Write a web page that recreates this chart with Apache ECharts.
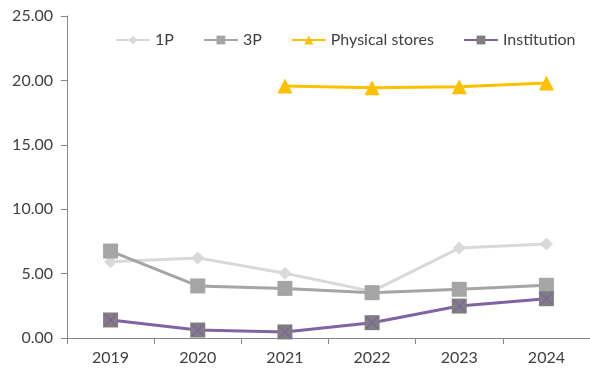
<!DOCTYPE html>
<html><head><meta charset="utf-8">
<script src="https://cdn.jsdelivr.net/npm/echarts@6/dist/echarts.min.js"></script>
<style>html,body{margin:0;padding:0;background:#fff}#c{width:590px;height:374px}</style>
</head><body><div id="c"></div>
<script>
var categories = ['2019','2020','2021','2022','2023','2024'];
var yTicks = [0,5,10,15,20,25];
var s1P = [5.92, 6.22, 5.02, 3.62, 6.98, 7.30];
var s3P = [6.75, 4.04, 3.85, 3.52, 3.78, 4.09];
var sPhysical = [null, null, 19.57, 19.42, 19.50, 19.80];
var sInstitution = [1.40, 0.62, 0.47, 1.19, 2.48, 3.05];

var font = 'Lato, "Open Sans", sans-serif';
var chart = echarts.init(document.getElementById('c'));
var xPath = 'path://M0,0 L10,10 M10,0 L0,10';
chart.setOption({
  animation: false,
  textStyle: {fontFamily: font},
  grid: {left: 67, right: -5, top: 16, bottom: 36},
  legend: {
    top: 27, left: 110, itemGap: 29, itemWidth: 34, itemHeight: 11,
    textStyle: {fontFamily: font, fontSize: 16, color: '#404040'},
    data: ['1P','3P','Physical stores','Institution']
  },
  xAxis: {
    type: 'category', data: categories, boundaryGap: true,
    axisLine: {lineStyle: {color: '#868686', width: 1}},
    axisTick: {show: true, length: 6, lineStyle: {color: '#868686'}},
    axisLabel: {fontFamily: font, fontSize: 16, color: '#404040', margin: 12}
  },
  yAxis: {
    type: 'value', min: yTicks[0], max: yTicks[yTicks.length-1], interval: 5,
    splitLine: {show: false},
    axisLine: {show: true, lineStyle: {color: '#868686', width: 1}},
    axisTick: {show: true, length: 6, lineStyle: {color: '#868686'}},
    axisLabel: {fontFamily: font, fontSize: 16, color: '#404040', margin: 14,
      formatter: function(v){return v.toFixed(2);}}
  },
  series: [
    {name: '1P', type: 'line', data: s1P, symbol: 'diamond', symbolSize: 13,
     lineStyle: {color: '#D9D9D9', width: 3}, itemStyle: {color: '#D9D9D9'}, z: 2},
    {name: '3P', type: 'line', data: s3P, symbol: 'rect', symbolSize: 15,
     lineStyle: {color: '#A5A5A5', width: 3}, itemStyle: {color: '#A5A5A5'}, z: 3},
    {name: 'Physical stores', type: 'line', data: sPhysical, symbol: 'triangle', symbolSize: 15,
     lineStyle: {color: '#FFC000', width: 3}, itemStyle: {color: '#FFC000'}, z: 4},
    {name: 'Institution', type: 'line', data: sInstitution, symbol: 'rect', symbolSize: 15,
     lineStyle: {color: '#8064A2', width: 3}, itemStyle: {color: '#7F7F7F'}, z: 5},
    {name: 'InstitutionX', type: 'line', data: sInstitution, symbol: xPath, symbolSize: 12,
     lineStyle: {opacity: 0}, itemStyle: {color: 'none', borderColor: '#8064A2', borderWidth: 1.5}, z: 6}
  ]
});
</script></body></html>
